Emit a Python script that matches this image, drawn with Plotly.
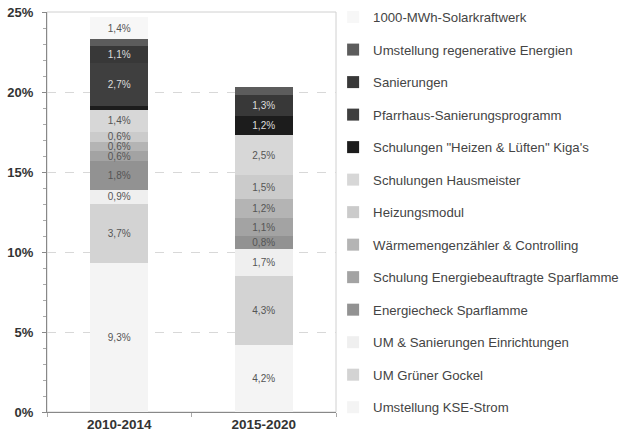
import plotly.graph_objects as go

categories = ["2010-2014", "2015-2020"]

# series from bottom of stack to top
series_names = [
    "Umstellung KSE-Strom",
    "UM Grüner Gockel",
    "UM & Sanierungen Einrichtungen",
    "Energiecheck Sparflamme",
    "Schulung Energiebeauftragte Sparflamme",
    "Wärmemengenzähler & Controlling",
    "Heizungsmodul",
    "Schulungen Hausmeister",
    "Schulungen \"Heizen & Lüften\" Kiga's",
    "Pfarrhaus-Sanierungsprogramm",
    "Sanierungen",
    "Umstellung regenerative Energien",
    "1000-MWh-Solarkraftwerk",
]

kse_strom = [9.3, 4.2]
gruener_gockel = [3.7, 4.3]
um_sanierungen = [0.9, 1.7]
energiecheck = [1.8, 0.8]
schulung_energiebeauftragte = [0.6, 1.1]
waermemengenzaehler = [0.6, 1.2]
heizungsmodul = [0.6, 1.5]
schulungen_hausmeister = [1.4, 2.5]
heizen_lueften = [0.2, 1.2]
pfarrhaus = [2.7, 0.0]
sanierungen = [1.1, 1.3]
regenerative = [0.4, 0.5]
solarkraftwerk = [1.4, 0.0]

series_values = [
    kse_strom, gruener_gockel, um_sanierungen, energiecheck,
    schulung_energiebeauftragte, waermemengenzaehler, heizungsmodul,
    schulungen_hausmeister, heizen_lueften, pfarrhaus, sanierungen,
    regenerative, solarkraftwerk,
]

colors = [
    "#f4f4f4", "#d3d3d3", "#efefef", "#929292", "#a3a3a3", "#b4b4b4",
    "#cbcbcb", "#d7d7d7", "#1c1c1c", "#3f3f3f", "#383838", "#5c5c5c",
    "#f7f7f7",
]
text_colors = [
    "#555", "#555", "#555", "#555", "#555", "#555", "#555", "#555",
    "#ddd", "#ddd", "#ddd", "#ddd", "#555",
]
unlabeled = {"Umstellung regenerative Energien"}

tick_vals = [0, 5, 10, 15, 20, 25]
tick_text = ["0%", "5%", "10%", "15%", "20%", "25%"]

fig = go.Figure()
n = len(series_names)
for i, (name, vals) in enumerate(zip(series_names, series_values)):
    labels = [
        ("" if (name in unlabeled or v < 0.55) else f"{v:.1f}%".replace(".", ","))
        for v in vals
    ]
    fig.add_trace(go.Bar(
        x=categories, y=vals, name=name,
        marker=dict(color=colors[i], line=dict(width=0)),
        text=labels, textposition="inside", insidetextanchor="middle",
        textangle=0,
        textfont=dict(size=10, color=text_colors[i], family="Arial, Liberation Sans"),
        legendgroup=name, legendrank=100 + (n - i),
        hoverinfo="skip",
    ))

fig.update_layout(
    barmode="stack",
    bargap=0.6,
    width=623, height=442,
    margin=dict(l=47, r=287, t=12, b=30, autoexpand=False),
    paper_bgcolor="white", plot_bgcolor="white",
    font=dict(family="Arial, Liberation Sans", color="#333"),
    uniformtext=dict(minsize=10, mode="show"),
    showlegend=True,
    legend=dict(
        x=0.99, y=1.025, xanchor="left", yanchor="top",
        traceorder="grouped", tracegroupgap=12.35,
        font=dict(size=13.2, color="#444"),
        bgcolor="rgba(0,0,0,0)",
        maxheight=1.0,
    ),
    shapes=[dict(type="rect", xref="paper", yref="paper", x0=0, x1=1, y0=0, y1=1,
                 line=dict(color="#d0d0d0", width=1), layer="below")],
)
fig.update_yaxes(
    range=[0, 25], tickvals=tick_vals, ticktext=[f"<b>{t}</b>" for t in tick_text],
    tickfont=dict(size=13, color="#333", family="Arial, Liberation Sans"),
    ticklabeloverflow="allow",
    showgrid=True, gridcolor="#d8d8d8", griddash="dash", gridwidth=1,
    showline=True, linecolor="#888", linewidth=1,
    ticks="outside", ticklen=4, tickcolor="#888", ticklabelstandoff=6,
    minor=dict(dtick=1, ticks="outside", ticklen=3, tickcolor="#aaa", showgrid=False),
    zeroline=False,
)
fig.update_xaxes(
    tickfont=dict(size=13.5, color="#333"),
    tickvals=categories, ticktext=[f"<b>{c}</b>" for c in categories],
    showline=True, linecolor="#888", linewidth=1,
    ticks="outside", tickson="boundaries", ticklen=4, tickcolor="#aaa",
)

fig.write_html("out.html", config={"displayModeBar": False},
               post_script="document.body.style.margin='0';")
